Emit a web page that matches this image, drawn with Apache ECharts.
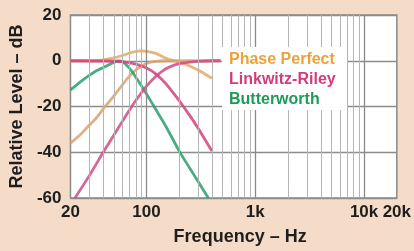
<!DOCTYPE html>
<html>
<head>
<meta charset="utf-8">
<script src="https://cdn.jsdelivr.net/npm/echarts@6/dist/echarts.min.js"></script>
<style>
html, body { margin: 0; padding: 0; background: #f4dcc8; }
#main { width: 414px; height: 251px; }
</style>
</head>
<body>
<div id="main"></div>
<script>
// values (Hz / dB)
const ppSumFreq = [20, 30, 35, 40, 50, 60, 70, 80, 90, 100, 120, 140, 160, 180, 200, 250, 300, 350, 400]
const ppSumDb = [0, 0, 0.1, 0.4, 1.3, 2.3, 3.4, 4.1, 4.3, 4.1, 3.3, 1.8, 0.6, 0, -0.5, -2.3, -4.2, -6, -7.7]

const ppHpFreq = [20, 25, 30, 35, 40, 50, 60, 70, 80, 90, 100, 120, 150, 200, 300, 480]
const ppHpDb = [-36, -32, -28, -24.7, -21, -15.5, -10.5, -6.6, -4, -2.3, -1.2, -0.3, 0, 0, 0, 0]

const lrLpFreq = [20, 40, 60, 80, 100, 120, 140, 160, 200, 250, 300, 350, 400]
const lrLpDb = [0, -0.1, -0.4, -1.5, -3.2, -5.5, -8.4, -11.5, -17.5, -24, -29.7, -35, -39.5]

const lrHpFreq = [22, 30, 40, 50, 60, 70, 80, 90, 100, 120, 140, 160, 200, 250, 300, 400, 480]
const lrHpDb = [-60, -50, -40, -32.6, -26.5, -21.4, -17.3, -13.9, -11.1, -7.1, -4.5, -2.9, -1.3, -0.6, -0.25, 0, 0]

const bwFreq = [20, 25, 30, 35, 40, 45, 50, 55, 60, 70, 80, 90, 100, 120, 150, 200, 250, 300, 370]
const bwDb = [-12.8, -9, -6.3, -4.3, -3, -1.8, -0.7, -0.1, -0.4, -3.3, -7.3, -11, -14.5, -20.8, -28.5, -39.5, -47, -53, -60]

const minorFreqs = [30, 40, 50, 60, 70, 80, 90, 200, 300, 400, 500, 600, 700, 800, 900,
  2000, 3000, 4000, 5000, 6000, 7000, 8000, 9000]
const decadeFreqs = [100, 1000, 10000]

const legendNames = ['Phase Perfect', 'Linkwitz-Riley', 'Butterworth']
const legendColors = ['#eca23a', '#d63a7c', '#1f9a58']

const zip = (xs, ys) => xs.map((x, i) => [x, ys[i]])
const font = '"Liberation Sans", Arial, sans-serif'

function curve(name, color, xs, ys) {
  return {
    name,
    type: 'line',
    z: 3,
    data: zip(xs, ys),
    smooth: 0.3,
    showSymbol: false,
    symbol: 'none',
    lineStyle: { color, width: 2.8, opacity: 0.85 },
    itemStyle: { color },
  }
}

const chart = echarts.init(document.getElementById('main'))
chart.setOption({
  animation: false,
  backgroundColor: '#f4dcc8',
  textStyle: { fontFamily: font },
  grid: {
    left: 68,
    right: 13,
    top: 15,
    bottom: 48,
    show: true,
    backgroundColor: '#ffffff',
    borderColor: '#8a8a8a',
    borderWidth: 1.5,
  },
  // white patch behind the legend, covering the grid lines
  graphic: [{
    type: 'rect',
    z: 50,
    shape: { x: 222, y: 47, width: 125, height: 63 },
    style: { fill: '#ffffff' },
    silent: true,
  }],
  legend: {
    z: 60,
    orient: 'vertical',
    left: 222,
    top: 47,
    padding: [5, 6, 5, 2],
    itemGap: 4,
    itemWidth: 0,
    itemHeight: 16,
    icon: 'none',
    selectedMode: false,
    textStyle: { fontSize: 16, fontWeight: 'bold', fontFamily: font },
    data: legendNames.map((n, i) => ({ name: n, icon: 'none', textStyle: { color: legendColors[i] } })),
  },
  xAxis: {
    type: 'log',
    logBase: 10,
    min: 20,
    max: 20000,
    name: 'Frequency – Hz',
    nameLocation: 'middle',
    nameGap: 30,
    nameTextStyle: { fontSize: 18, fontWeight: 'bold', color: '#1e1e1e', padding: [0, 0, 0, 13] },
    axisLine: { show: false },
    axisTick: { show: false },
    splitLine: { show: false },
    axisLabel: {
      interval: 0,
      showMinLabel: true,
      showMaxLabel: true,
      margin: 6,
      fontSize: 17,
      fontWeight: 'bold',
      color: '#1e1e1e',
      formatter: (v) => {
        const r = Math.round(v)
        return r >= 1000 ? (r / 1000) + 'k' : String(r)
      },
    },
  },
  yAxis: {
    type: 'value',
    min: -60,
    max: 20,
    interval: 20,
    name: 'Relative Level – dB',
    nameLocation: 'middle',
    nameGap: 42,
    nameTextStyle: { fontSize: 18, fontWeight: 'bold', color: '#1e1e1e', padding: [0, 0, 0, 0] },
    axisLine: { show: false },
    axisTick: { show: false },
    axisLabel: { margin: 9, fontSize: 17, fontWeight: 'bold', color: '#1e1e1e' },
    splitLine: { show: true, lineStyle: { color: '#8c8c8c', width: 1.3 } },
  },
  series: [
    {
      name: 'grid',
      type: 'line',
      z: 1,
      data: [],
      silent: true,
      markLine: {
        silent: true,
        symbol: 'none',
        label: { show: false },
        animation: false,
        data: minorFreqs.map(f => ({ xAxis: f, lineStyle: { color: '#b5b5b5', width: 1, type: 'solid' } }))
          .concat(decadeFreqs.map(f => ({ xAxis: f, lineStyle: { color: '#8a8a8a', width: 1.3, type: 'solid' } }))),
      },
    },
    curve('Phase Perfect', '#e8a860', ppSumFreq, ppSumDb),
    curve('Phase Perfect', '#dca26c', ppHpFreq, ppHpDb),
    curve('Butterworth', '#2a9d6c', bwFreq, bwDb),
    curve('Linkwitz-Riley', '#d5407e', lrLpFreq, lrLpDb),
    curve('Linkwitz-Riley', '#cf4a86', lrHpFreq, lrHpDb),
  ],
})
</script>
</body>
</html>
